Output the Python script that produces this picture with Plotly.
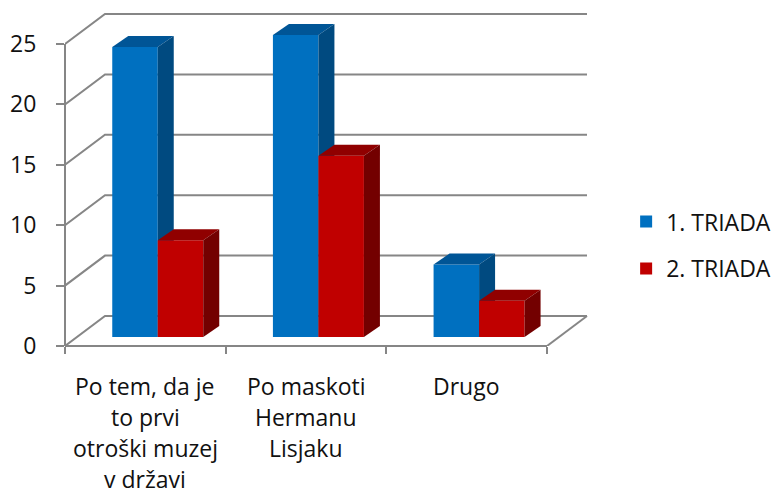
import plotly.graph_objects as go

categories = ["Po tem, da je<br>to prvi<br>otroški muzej<br>v državi", "Po maskoti<br>Hermanu<br>Lisjaku", "Drugo"]
series_1_name = "1. TRIADA"
series_2_name = "2. TRIADA"
series_1 = [24, 25, 6]
series_2 = [8, 15, 3]
y_ticks = [0, 5, 10, 15, 20, 25]

# layout constants
PX_X = 482 / 3      # pixels per category
PX_Y = 302 / 25     # pixels per value unit
FONT = "Open Sans"
TEXT = "#111111"
GRID = "#868686"
WALL_DX, WALL_DY = 40 / PX_X, 30 / PX_Y
BASE = 9 / PX_Y
BAR_W = 45.5 / PX_X
START = 70 / PX_X
DEPTH_X, DEPTH_Y = 16 / PX_X, 11 / PX_Y
X_MAX = 525 / PX_X
Y_MAX = 336 / PX_Y

fig = go.Figure()

# back wall and floor
for v in y_ticks:
    fig.add_trace(go.Scatter(
        x=[0, WALL_DX, 3 + WALL_DX], y=[v, v + WALL_DY, v + WALL_DY],
        mode="lines", line=dict(color=GRID, width=2),
        showlegend=False, hoverinfo="skip"))
fig.add_trace(go.Scatter(
    x=[3, 3 + WALL_DX], y=[0, WALL_DY], mode="lines",
    line=dict(color=GRID, width=2), showlegend=False, hoverinfo="skip"))


def add_series(name, values, offset, front, top, side, xa, ya, group):
    xs = [i + START + offset for i in range(len(values))]
    fig.add_trace(go.Bar(
        x=xs, y=values, base=[BASE] * len(values), width=BAR_W, name=name,
        marker=dict(color=front, line=dict(width=0)), xaxis=xa, yaxis=ya,
        legendgroup=group))
    for x, v in zip(xs, values):
        l, r = x - BAR_W / 2, x + BAR_W / 2
        t, b = v + BASE, BASE
        fig.add_trace(go.Scatter(
            x=[l, l + DEPTH_X, r + DEPTH_X, r, l],
            y=[t, t + DEPTH_Y, t + DEPTH_Y, t, t],
            fill="toself", fillcolor=top, mode="lines", line=dict(width=0),
            xaxis=xa, yaxis=ya, showlegend=False, hoverinfo="skip"))
        fig.add_trace(go.Scatter(
            x=[r, r + DEPTH_X, r + DEPTH_X, r, r],
            y=[t, t + DEPTH_Y, b + DEPTH_Y, b, t],
            fill="toself", fillcolor=side, mode="lines", line=dict(width=0),
            xaxis=xa, yaxis=ya, showlegend=False, hoverinfo="skip"))


add_series(series_1_name, series_1, 0, "#0070C0", "#005596", "#004A80", "x2", "y2", "a")
add_series(series_2_name, series_2, BAR_W, "#C00000", "#900000", "#730000", "x3", "y3", "b")

annotations = []
for i, cat in enumerate(categories):
    for j, line in enumerate(cat.split("<br>")):
        annotations.append(dict(
            text=line, xref="x", x=i + 0.5, yref="paper", y=0,
            yshift=-(40 + 31 * j), yanchor="middle", xanchor="center", showarrow=False,
            font=dict(family=FONT, size=23, color=TEXT)))

axis_lines = [
    dict(type="line", xref="x", yref="paper", x0=0, x1=3, y0=0, y1=0,
         line=dict(color=GRID, width=2)),
    dict(type="line", xref="paper", yref="y", x0=0, x1=0, y0=0, y1=25,
         line=dict(color=GRID, width=2)),
]

hidden = dict(range=[0, X_MAX], visible=False, fixedrange=True, automargin=False)
hiddeny = dict(range=[0, Y_MAX], visible=False, fixedrange=True, automargin=False)
fig.update_layout(
    template="none",
    width=773, height=488, autosize=False,
    margin=dict(l=65, r=183, t=10, b=142, pad=0),
    paper_bgcolor="white", plot_bgcolor="white",
    barmode="overlay",
    font=dict(family=FONT, size=23, color=TEXT),
    xaxis=dict(range=[0, X_MAX], showgrid=False, zeroline=False, showline=False,
               automargin=False, showticklabels=False,
               tickvals=[0, 1, 2, 3], ticks="outside", ticklen=7, tickwidth=2, tickcolor=GRID),
    yaxis=dict(range=[0, Y_MAX], tickvals=y_ticks, showgrid=False, zeroline=False, showline=False,
               automargin=False, ticks="outside", ticklen=8, tickwidth=2,
               tickcolor=GRID, ticklabelstandoff=15,
               tickfont=dict(family=FONT, size=23, color=TEXT)),
    xaxis2=dict(hidden, overlaying="x", anchor="y2"),
    yaxis2=dict(hiddeny, overlaying="y", anchor="x2"),
    xaxis3=dict(hidden, overlaying="x", anchor="y3"),
    yaxis3=dict(hiddeny, overlaying="y", anchor="x3"),
    legend=dict(xref="container", yref="container", x=0.81, y=0.59, xanchor="left", yanchor="top",
                tracegroupgap=14, traceorder="grouped",
                font=dict(family=FONT, size=23, color=TEXT), bgcolor="rgba(0,0,0,0)"),
    annotations=annotations,
    shapes=axis_lines,
    showlegend=True,
)

fig.write_html("out.html", config={"displayModeBar": False},
               post_script="document.body.style.margin='0';document.body.style.overflow='hidden';")
